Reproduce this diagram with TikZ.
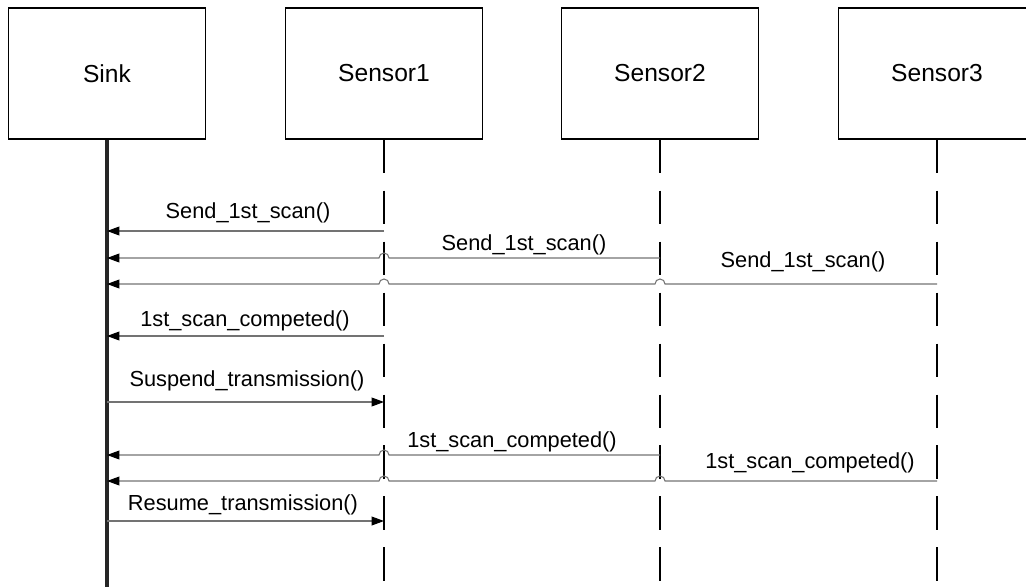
\documentclass[tikz,border=0pt]{standalone}
\usepackage{fontspec}
\setmainfont{Liberation Sans}
\usepackage{tikz}
\usetikzlibrary{arrows.meta, calc}
\tikzset{
  box/.style={draw, line width=0.9pt, fill=white, minimum width=3.94cm, minimum height=2.62cm, font=\fontsize{14}{16}\selectfont},
  life/.style={line width=1pt, dash pattern=on 19pt off 10pt},
  sinklife/.style={line width=2.3pt, black!85},
  msg/.style={line width=0.6pt, black!55, -{Triangle[length=7pt,width=5pt,color=black]}},
  lbl/.style={font=\fontsize{12.4}{14}\selectfont, inner sep=0pt}
}

\begin{document}
\begin{tikzpicture}[x=0.02cm, y=0.02cm]
		\useasboundingbox (0,0) rectangle (1026,-587);
		% 生命线头
		\node[box] (Sink) at (107,-73.5) {Sink};
		\node[box] (S1) at (384,-73.5) {Sensor1};
		\node[box] (S2) at (660,-73.5) {Sensor2};
		\node[box] (S3) at (937,-73.5) {Sensor3};
		
		% 生命线
		\draw[sinklife] (Sink.south) -- (Sink.south |- 0,-587);
		\foreach \s in {S1,S2,S3} \draw[life] (\s.south) -- (\s.south |- 0,-587);
		
		% 第一次扫描
		\draw[msg] (S1.south |- 0,-231) -- (Sink.south |- 0,-231);
		\node[lbl] (m1) at (248,-213) {Send\_1st\_scan()};
		\draw[msg] (S2.south |- 0,-258) -- ($(S1.south |- 0,-258)+(5,0)$)
			arc[start angle=0,end angle=180,radius=5] -- (Sink.south |- 0,-258);
		\node[lbl] (m2) at (524,-245) {Send\_1st\_scan()};
		\draw[msg] (S3.south |- 0,-284) -- ($(S2.south |- 0,-284)+(5,0)$)
			arc[start angle=0,end angle=180,radius=5] -- ($(S1.south |- 0,-284)+(5,0)$)
			arc[start angle=0,end angle=180,radius=5] -- (Sink.south |- 0,-284);
		\node[lbl] (m3) at (803,-262) {Send\_1st\_scan()};
		
		% 扫描完成, 暂停
		\draw[msg] (S1.south |- 0,-336) -- (Sink.south |- 0,-336);
		\node[lbl] (m4) at (245,-321) {1st\_scan\_competed()};
		\draw[msg] (Sink.south |- 0,-402) -- (S1.south |- 0,-402);
		\node[lbl] (m5) at (247,-381) {Suspend\_transmission()};
		
		% 其余传感器完成
		\draw[msg] (S2.south |- 0,-455) -- ($(S1.south |- 0,-455)+(5,0)$)
			arc[start angle=0,end angle=180,radius=5] -- (Sink.south |- 0,-455);
		\node[lbl] (m6) at (512,-442) {1st\_scan\_competed()};
		\draw[msg] (S3.south |- 0,-481) -- ($(S2.south |- 0,-481)+(5,0)$)
			arc[start angle=0,end angle=180,radius=5] -- ($(S1.south |- 0,-481)+(5,0)$)
			arc[start angle=0,end angle=180,radius=5] -- (Sink.south |- 0,-481);
		\node[lbl] (m7) at (810,-463) {1st\_scan\_competed()};
		
		% 恢复
		\draw[msg] (Sink.south |- 0,-521) -- (S1.south |- 0,-521);
		\node[lbl] (m8) at (243,-505) {Resume\_transmission()};
	\end{tikzpicture}
\end{document}
